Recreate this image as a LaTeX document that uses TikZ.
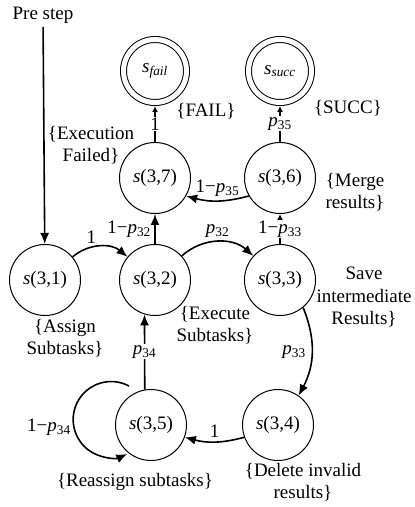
\documentclass[tikz,border=0pt]{standalone}
\usepackage{fontspec}
\setmainfont{Liberation Serif}
\usetikzlibrary{arrows.meta}

\begin{document}
\begin{tikzpicture}[x=1pt, y=1pt,
  font=\fontsize{19}{22.5}\selectfont,
  stnode/.style={draw, circle, line width=1pt, minimum size=71pt, inner sep=0pt},
  accnode/.style={draw, circle, line width=1pt, minimum size=63pt, inner sep=0pt,
    double, double distance=5pt, outer sep=3.5pt},
  bigarr/.style={-{Latex[length=11pt,width=9pt]}, line width=1.6pt},
  smallarr/.style={-{Latex[length=6pt,width=6pt]}, line width=1.2pt},
  online/.style={fill=white, inner sep=1pt},
  txt/.style={align=center}]
\def\xa{45};
\def\xb{155};
\def\xc{280};

\def\ya{436};
\def\yb{329};
\def\yc{227};
\def\yd{82};

\fill[white] (0,0) rectangle (415,507);
\useasboundingbox (0,0) rectangle (415,507);

\node (pre) at (43,492) {Pre step};

\node[accnode] (sfail) at (\xb, \ya) {\textit{s}\textsubscript{\textit{fail}}};
\node[accnode] (ssucc) at (\xc, \ya) {\textit{s}\textsubscript{\textit{succ}}};
\node[stnode] (s37) at (\xb, \yb) {\textit{s}(3,7)};
\node[stnode] (s36) at (\xc, \yb) {\textit{s}(3,6)};
\node[stnode] (s31) at (\xa, \yc) {\textit{s}(3,1)};
\node[stnode] (s32) at (\xb, \yc) {\textit{s}(3,2)};
\node[stnode] (s33) at (\xc, \yc) {\textit{s}(3,3)};
\node[stnode] (s35) at (151, \yd) {\textit{s}(3,5)};
\node[stnode] (s34) at (278, \yd) {\textit{s}(3,4)};

% descriptions
\node[txt] (dfail) at (91,362) {\{Execution\\Failed\}};
\node (tfail) at (206,396) {\{FAIL\}};
\node (tsucc) at (348,399) {\{SUCC\}};
\node[txt] (dmerge) at (355,315) {\{Merge\\results\}};
\node[txt] (dsave) at (364,210) {Save\\intermediate\\Results\}};
\node[txt] (dexec) at (215,182) {\{Execute\\Subtasks\}};
\node[txt] (dassign) at (65,169) {\{Assign\\Subtasks\}};
\node (dreass) at (135,25) {\{Reassign subtasks\}};
\node[txt] (ddel) at (303,25) {\{Delete invalid\\results\}};

% transitions
\draw[bigarr] (pre) -- (s31);
\draw[bigarr] (s31) to[bend left=40] node[above, pos=0.35] {1} (s32);
\draw[bigarr] (s32) -- node[left] {1−\textit{p}\textsubscript{32}} (s37);
\draw[bigarr] (s32) to[bend left=42] node[above] {\textit{p}\textsubscript{32}} (s33);
\draw[smallarr] (s33) -- node[online] {1−\textit{p}\textsubscript{33}} (s36);
\draw[bigarr] (s36.210) to[bend left=15] node[above] {1−\textit{p}\textsubscript{35}} (s37.-30);
\draw[smallarr] (s37) -- node[online] {1} (sfail);
\draw[smallarr] (s36) -- node[online] {\textit{p}\textsubscript{35}} (ssucc);
\draw[bigarr] (s33.-50) to[bend left=25] node[left=2pt] {\textit{p}\textsubscript{33}} (s34.55);
\draw[bigarr] (s34.200) to[bend left=15] node[above] {1} (s35.-20);
\draw[bigarr] (s35.100) -- node[online] {\textit{p}\textsubscript{34}} (s32.253);
\draw[bigarr] (s35.center) ++(-22,39) arc[start angle=62, end angle=295, radius=38];
\node (l34) at (49,80) {1−\textit{p}\textsubscript{34}};

\end{tikzpicture}
\end{document}
